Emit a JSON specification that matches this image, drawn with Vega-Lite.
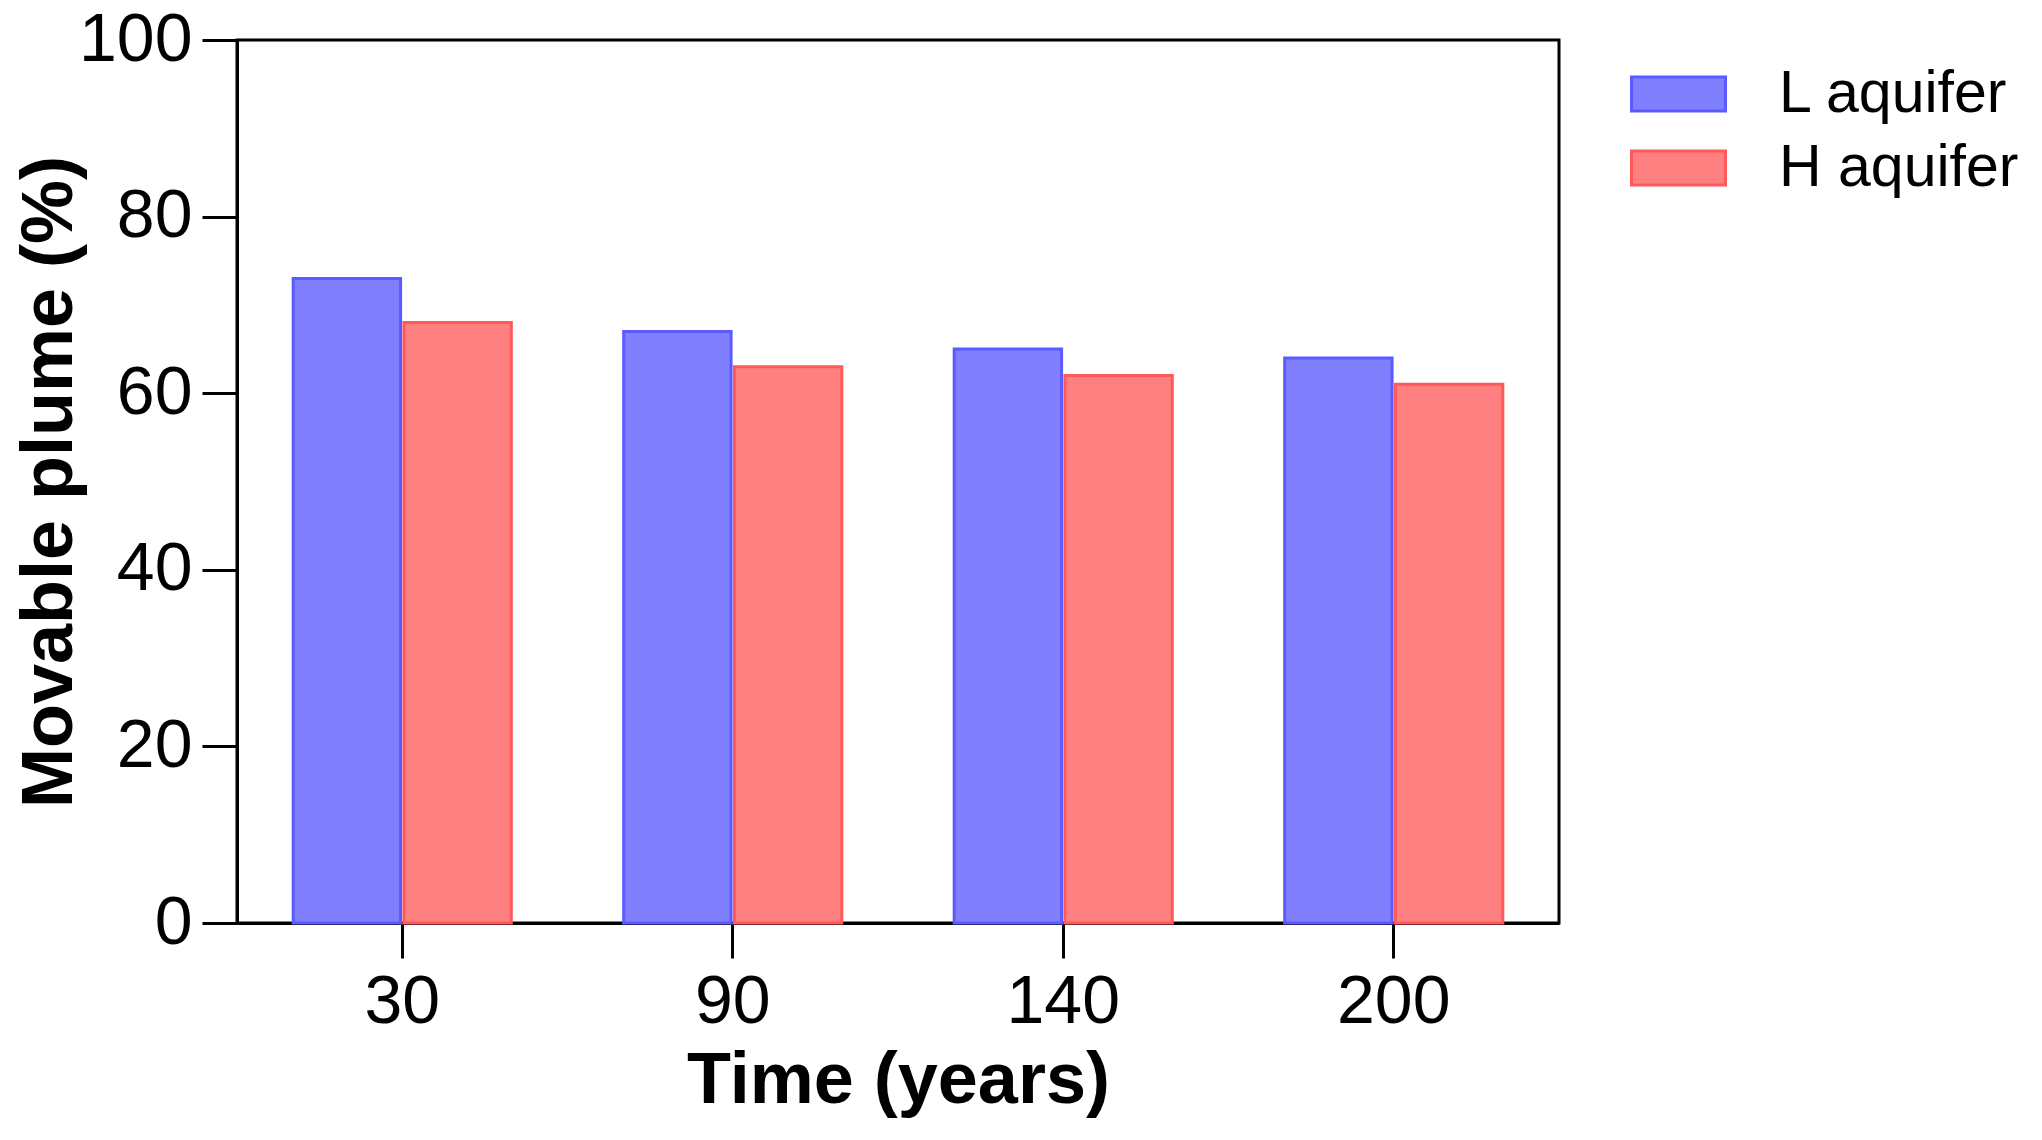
{
  "$schema": "https://vega.github.io/schema/vega-lite/v6.json",
  "width": 1322,
  "height": 883,
  "autosize": {"type": "none"},
  "padding": {"left": 237, "top": 40, "right": 483, "bottom": 217},
  "background": "white",
  "data": {
    "values": [
      {"time": "30", "aquifer": "L aquifer", "value": 73},
      {"time": "30", "aquifer": "H aquifer", "value": 68},
      {"time": "90", "aquifer": "L aquifer", "value": 67},
      {"time": "90", "aquifer": "H aquifer", "value": 63},
      {"time": "140", "aquifer": "L aquifer", "value": 65},
      {"time": "140", "aquifer": "H aquifer", "value": 62},
      {"time": "200", "aquifer": "L aquifer", "value": 64},
      {"time": "200", "aquifer": "H aquifer", "value": 61}
    ]
  },
  "mark": {"type": "bar", "strokeWidth": 3},
  "encoding": {
    "x": {
      "field": "time",
      "type": "nominal",
      "sort": ["30", "90", "140", "200"],
      "scale": {"paddingInner": 0.34, "paddingOuter": 0.17},
      "axis": {
        "title": "Time (years)",
        "labelAngle": 0,
        "labelPadding": 10,
        "titlePadding": 9
      }
    },
    "xOffset": {
      "field": "aquifer",
      "type": "nominal",
      "sort": ["L aquifer", "H aquifer"],
      "scale": {"paddingInner": 0.03, "paddingOuter": 0}
    },
    "y": {
      "field": "value",
      "type": "quantitative",
      "scale": {"domain": [0, 100], "nice": false},
      "axis": {
        "title": "Movable plume (%)",
        "values": [0, 20, 40, 60, 80, 100],
        "grid": false,
        "labelPadding": 10,
        "titlePadding": -8
      }
    },
    "fill": {
      "field": "aquifer",
      "type": "nominal",
      "sort": ["L aquifer", "H aquifer"],
      "scale": {"domain": ["L aquifer", "H aquifer"], "range": ["#8080ff", "#ff8080"]},
      "legend": {
        "title": null,
        "orient": "none",
        "legendX": 1393,
        "legendY": 34,
        "padding": 0,
        "symbolType": "M-1,-0.362H1V0.362H-1Z",
        "symbolSize": 8836,
        "symbolStrokeWidth": 3,
        "symbolOpacity": 1,
        "clipHeight": 40,
        "rowPadding": 15,
        "labelOffset": 52,
        "labelFontSize": 59,
        "labelFont": "Liberation Sans",
        "labelColor": "black",
        "labelLimit": 0
      }
    },
    "stroke": {
      "field": "aquifer",
      "type": "nominal",
      "sort": ["L aquifer", "H aquifer"],
      "scale": {"domain": ["L aquifer", "H aquifer"], "range": ["#5a5aff", "#ff5a5a"]},
      "legend": null
    }
  },
  "config": {
    "view": {"stroke": "black", "strokeWidth": 3},
    "font": "Liberation Sans",
    "axis": {
      "domainColor": "black",
      "domainWidth": 3,
      "tickColor": "black",
      "tickWidth": 3,
      "tickSize": 35,
      "labelFont": "Liberation Sans",
      "labelFontSize": 68,
      "labelColor": "black",
      "labelFlush": false,
      "labelOverlap": false,
      "titleFont": "Liberation Sans",
      "titleFontSize": 72,
      "titleFontWeight": "bold",
      "titleColor": "black"
    }
  }
}
